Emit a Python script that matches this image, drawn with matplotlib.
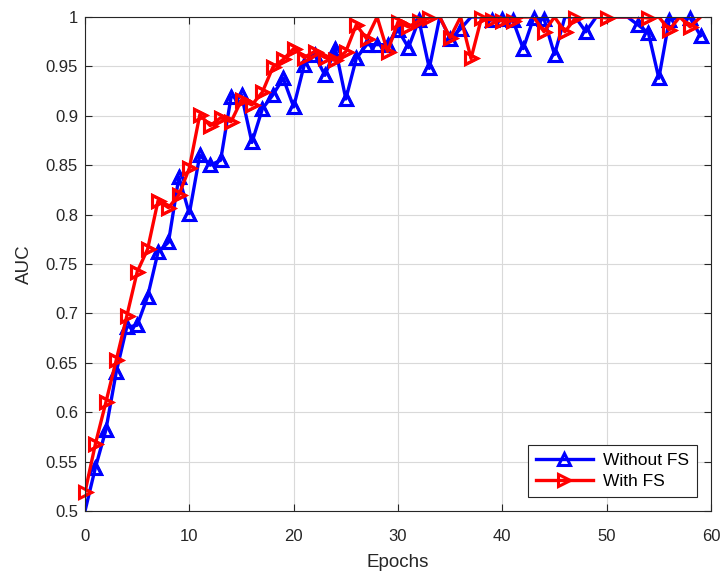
import numpy as np
import matplotlib
matplotlib.use("Agg")
import matplotlib.pyplot as plt

epochs = list(range(60))
without_fs = [0.500, 0.544, 0.582, 0.641, 0.686, 0.688, 0.717, 0.762, 0.772, 0.838,
              0.801, 0.860, 0.850, 0.855, 0.919, 0.921, 0.873, 0.907, 0.921, 0.938,
              0.909, 0.951, 0.962, 0.941, 0.968, 0.917, 0.958, 0.972, 0.972, 0.972,
              0.987, 0.969, 0.997, 0.948, 1.000, 0.978, 0.988, 1.000, 1.000, 0.997,
              0.998, 0.997, 0.968, 0.999, 0.998, 0.962, 1.000, 1.000, 0.985, 1.000,
              1.000, 1.000, 1.000, 0.992, 0.984, 0.938, 0.997, 1.000, 0.999, 0.981]
with_fs = [0.519, 0.568, 0.610, 0.653, 0.697, 0.742, 0.765, 0.814, 0.807, 0.820,
           0.847, 0.901, 0.890, 0.898, 0.894, 0.916, 0.911, 0.924, 0.949, 0.957,
           0.968, 0.959, 0.965, 0.959, 0.956, 0.965, 0.992, 0.978, 1.000, 0.965,
           0.995, 0.990, 0.996, 0.999, 1.000, 0.979, 1.000, 0.958, 0.999, 0.997,
           0.996, 0.996, 1.000, 1.000, 0.985, 1.000, 0.985, 0.999, 1.000, 1.000,
           0.999, 1.000, 1.000, 1.000, 0.999, 1.000, 0.987, 1.000, 0.990, 1.000]
series_labels = ["Without FS", "With FS"]
yticks = [0.5, 0.55, 0.6, 0.65, 0.7, 0.75, 0.8, 0.85, 0.9, 0.95, 1.0]
ytick_labels = ["0.5", "0.55", "0.6", "0.65", "0.7", "0.75", "0.8", "0.85", "0.9", "0.95", "1"]
xticks = [0, 10, 20, 30, 40, 50, 60]

plt.rcParams['font.family'] = ['Liberation Sans', 'DejaVu Sans']

fig = plt.figure(figsize=(7.22, 5.72), dpi=100)
ax = fig.add_axes([85/722, 1-511/572, 626/722, 494/572])

def vis_mask(v):
    arr = np.array(v)
    return list((arr > 0.5) & (arr < 1.0))

styles = [dict(color=(0, 0, 1), marker='^', z=3), dict(color=(1, 0, 0), marker='>', z=4)]
for vals, lab, st in zip([without_fs, with_fs], series_labels, styles):
    mk = vis_mask(vals)
    ax.plot(epochs, vals, color=st['color'], lw=2.4, marker=st['marker'], ms=8.5,
            mfc='none', mec=st['color'], mew=2.2, markevery=mk,
            label=lab, zorder=st['z'])
    ax.plot(epochs, vals, ls='none', marker=st['marker'], ms=8.5,
            mfc='none', mec=st['color'], mew=2.2, markevery=mk,
            zorder=st['z'], clip_on=False)

ax.set_xlim(0, 60)
ax.set_ylim(0.5, 1.0)
ax.set_xticks(xticks)
ax.set_xticklabels([str(t) for t in xticks])
ax.set_yticks(yticks)
ax.set_yticklabels(ytick_labels)
ax.grid(True, color=(0.85, 0.85, 0.85), lw=0.8)
ax.set_axisbelow(True)
ax.tick_params(direction='in', top=True, right=True, length=5, width=0.8,
               colors=(0.15, 0.15, 0.15), labelsize=12, pad=5)
ax.tick_params(axis='x', pad=13)
for s in ax.spines.values():
    s.set_color((0.15, 0.15, 0.15))
    s.set_linewidth(0.8)
    s.set_zorder(5)
ax.set_xlabel("Epochs", fontsize=13.5, color=(0.15, 0.15, 0.15), labelpad=7)
ax.set_ylabel("AUC", fontsize=13.5, color=(0.15, 0.15, 0.15), labelpad=9)

leg = ax.legend(loc='lower right', fontsize=12.5, frameon=True, fancybox=False,
                edgecolor=(0.15, 0.15, 0.15), framealpha=1, handlelength=3.3,
                borderaxespad=0.8, borderpad=0.45, labelspacing=0.35,
                handletextpad=0.6)
leg.get_frame().set_linewidth(0.8)
leg.set_zorder(6)

fig.savefig("out.png", dpi=100)
